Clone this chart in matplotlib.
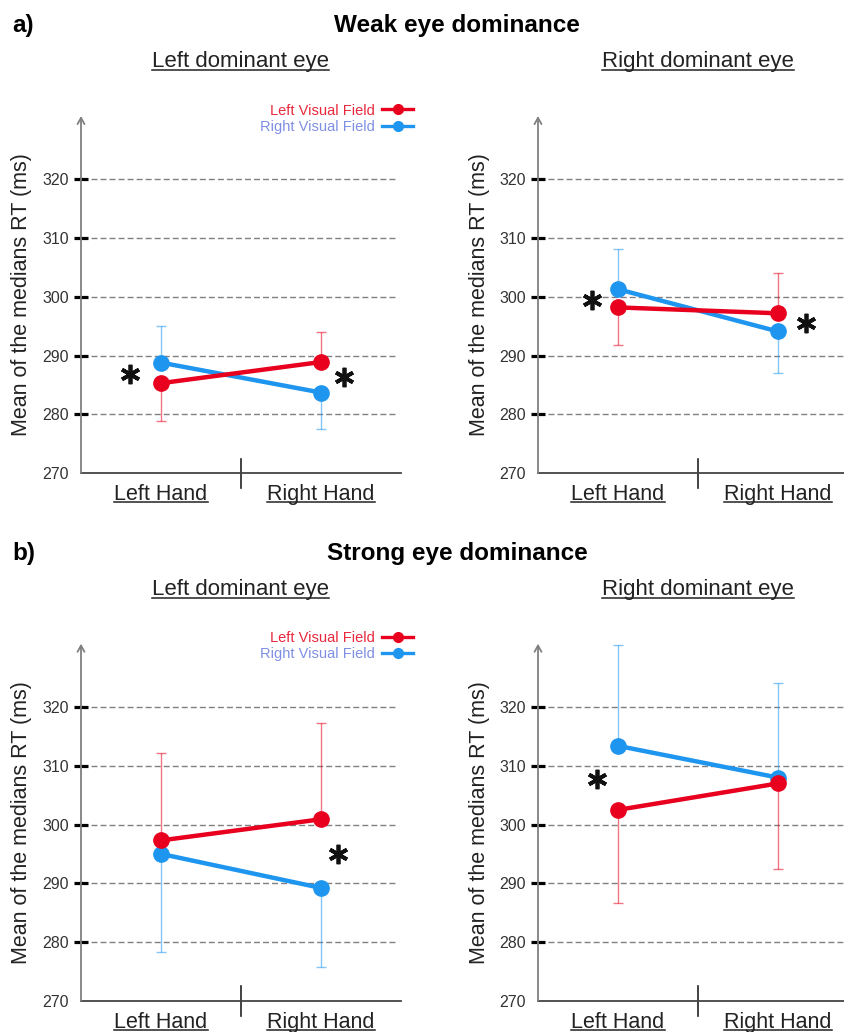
import numpy as np
import matplotlib.pyplot as plt
from matplotlib.lines import Line2D

plt.rcParams['font.family'] = ['Liberation Sans', 'DejaVu Sans']

hands = ["Left Hand", "Right Hand"]
fields = ["Left Visual Field", "Right Visual Field"]
row_titles = ["Weak eye dominance", "Strong eye dominance"]
row_tags = ["a)", "b)"]
eye_titles = ["Left dominant eye", "Right dominant eye"]
yticks = [270, 280, 290, 300, 310, 320]

# mean of the medians RT (ms), order: Left Hand, Right Hand
weak_left_lvf = [285.3, 288.9]
weak_left_rvf = [288.8, 283.7]
weak_right_lvf = [298.2, 297.2]
weak_right_rvf = [301.3, 294.1]
strong_left_lvf = [297.3, 300.9]
strong_left_rvf = [295.0, 289.2]
strong_right_lvf = [302.5, 307.0]
strong_right_rvf = [313.4, 308.0]

# error bar length (ms); positive is drawn upward, negative downward
weak_left_lvf_err = [-6.5, 5.1]
weak_left_rvf_err = [6.3, -6.2]
weak_right_lvf_err = [-6.4, 6.8]
weak_right_rvf_err = [6.8, -7.1]
strong_left_lvf_err = [14.9, 16.4]
strong_left_rvf_err = [-16.7, -13.4]
strong_right_lvf_err = [-15.9, -14.5]
strong_right_rvf_err = [17.2, 16.1]

RED = '#e8001e'
BLUE = '#1e96f0'

W, H = 845, 1032
fig = plt.figure(figsize=(W / 100, H / 100), dpi=100)


def fx(px):
    return px / W


def fy(py):
    return 1 - py / H


panels = [
    [(weak_left_lvf, weak_left_lvf_err, weak_left_rvf, weak_left_rvf_err),
     (weak_right_lvf, weak_right_lvf_err, weak_right_rvf, weak_right_rvf_err)],
    [(strong_left_lvf, strong_left_lvf_err, strong_left_rvf, strong_left_rvf_err),
     (strong_right_lvf, strong_right_lvf_err, strong_right_rvf, strong_right_rvf_err)],
]
# significance asterisks (x in hand units, y in ms)
stars = [
    [[(0.306, 286.8), (1.644, 286.3)], [(0.336, 299.4), (1.675, 295.6)]],
    [[(1.604, 294.9)], [(0.367, 307.8)]],
]

x = np.array([0.5, 1.5])
underlined = []

for r in range(2):
    off = r * 527.7
    fig.text(fx(12), fy(32 + off), row_tags[r], fontsize=17.5, fontweight='bold',
             ha='left', va='baseline')
    fig.text(fx(457), fy(32 + off), row_titles[r], fontsize=17.5, fontweight='bold',
             ha='center', va='baseline')
    for c in range(2):
        left = [81, 538][c]
        t = fig.text(fx(left + 160), fy(67.5 + off), eye_titles[c], fontsize=16,
                     ha='center', va='baseline', color='#222')
        underlined.append(t)
        fig.text(fx(left - 59), fy(295 + off), "Mean of the medians RT (ms)",
                 rotation=90, ha='center', va='center', fontsize=15.5, color='#222')

        ax = fig.add_axes([fx(left), fy(473 + off), 320 / W, 357 / H])
        ax.set_xlim(0, 2)
        ax.set_ylim(270, 330.8)
        for s in ['top', 'right', 'left']:
            ax.spines[s].set_visible(False)
        ax.spines['bottom'].set_color('#444')
        ax.spines['bottom'].set_linewidth(1.3)
        ax.annotate('', xy=(0, 1), xytext=(0, 0), xycoords='axes fraction',
                    arrowprops=dict(arrowstyle='->,head_length=0.45,head_width=0.25',
                                    color='#808080', lw=1.3, shrinkA=0, shrinkB=0))
        ax.set_xticks([])
        ax.set_yticks(yticks)
        ax.tick_params(axis='y', direction='inout', length=10, width=2.3, color='black',
                       labelsize=11.5, labelcolor='#333', pad=3.5)
        ax.yaxis.get_major_ticks()[0].tick1line.set_visible(False)
        ax.hlines(yticks[1:], 0.06, 1.96, colors='#808080', lw=1,
                  linestyles=(0, (4.3, 2.2)), zorder=1, clip_on=False)
        ax.plot([1, 1], [-0.042, 0.04], transform=ax.get_xaxis_transform(),
                color='#222', lw=1.2, clip_on=False)
        for i, h in enumerate(hands):
            t = ax.text(x[i], -27 / 357, h, transform=ax.get_xaxis_transform(),
                        ha='center', va='baseline', fontsize=15.5, color='#222')
            underlined.append(t)

        lvf, lvf_err, rvf, rvf_err = panels[r][c]
        for vals, err, col in [(rvf, rvf_err, BLUE), (lvf, lvf_err, RED)]:
            err = np.array(err)
            yerr = [np.where(err < 0, -err, 0), np.where(err > 0, err, 0)]
            ax.errorbar(x, vals, yerr=yerr, fmt='none', ecolor=col, alpha=0.55,
                        elinewidth=1, capsize=3.5, capthick=1, zorder=2, clip_on=False)
            ax.plot(x, vals, color=col, lw=3.2, marker='o', ms=11, zorder=3, clip_on=False)
        for sx, sy in stars[r][c]:
            ax.plot(sx, sy, marker=(6, 2, 0), ms=14, mew=2.7, color='#111', ls='none')

        if c == 0:
            handles = [Line2D([], [], color=RED, lw=2.4, marker='o', ms=7),
                       Line2D([], [], color=BLUE, lw=2.4, marker='o', ms=7)]
            leg = ax.legend(handles, fields, loc='upper right', bbox_to_anchor=(1.037, 1.035),
                            frameon=False, markerfirst=False, fontsize=10.5,
                            handlelength=2.1, handletextpad=0.5, labelspacing=0.15,
                            borderaxespad=0, borderpad=0)
            leg.get_texts()[0].set_color('#e8283c')
            leg.get_texts()[1].set_color('#7f8fe3')

fig.canvas.draw()
renderer = fig.canvas.get_renderer()
for t in underlined:
    bb = t.get_window_extent(renderer)
    yb = t.get_transform().transform(t.get_position())[1] - 2.5
    fig.add_artist(Line2D([bb.x0 / W, bb.x1 / W], [yb / H, yb / H],
                          transform=fig.transFigure, color='#222', lw=1.1))

fig.savefig('out.png', dpi=100)
